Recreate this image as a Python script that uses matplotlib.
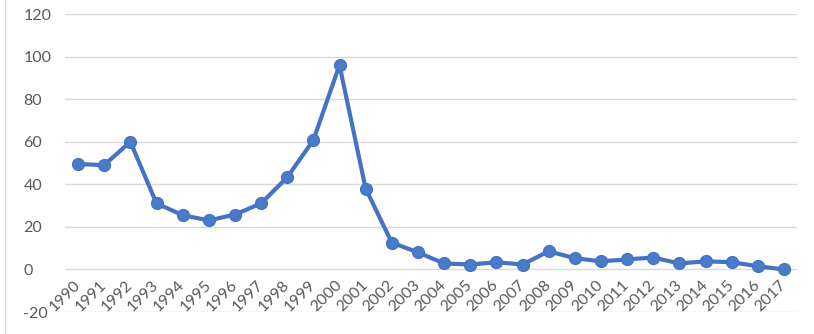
import matplotlib
matplotlib.use("Agg")
import matplotlib.pyplot as plt
from matplotlib.lines import Line2D

years = [str(y) for y in range(1990, 2018)]
values = [49.5, 49, 60, 31, 25.5, 23, 25.8, 31, 43.3, 60.7, 96, 38, 12.6, 8,
          2.8, 2.3, 3.4, 2.3, 8.5, 5.3, 3.8, 4.7, 5.6, 2.8, 3.8, 3.4, 1.5, 0]
yticks = [-20, 0, 20, 40, 60, 80, 100, 120]

W, H = 814, 334
fig = plt.figure(figsize=(W / 100, H / 100), dpi=100)
ax = fig.add_axes([65 / W, 1 - 312 / H, (797 - 65) / W, (312 - 14) / H])

x = list(range(len(years)))
ax.plot(x, values, color="#4472C4", lw=3.0, marker="o", markersize=8.5,
        markerfacecolor="#4A7BC8", markeredgecolor="#4472C4", zorder=3,
        solid_joinstyle="round")

ax.set_xlim(-0.5, len(years) - 0.5)
ax.set_ylim(-20, 120)
ax.set_yticks(yticks)
ax.set_yticklabels([str(v) for v in yticks])
ax.set_xticks(x)
ax.set_xticklabels(years)

ax.grid(axis="y", color="#D9D9D9", lw=1)
ax.set_axisbelow(True)
for s in ax.spines.values():
    s.set_visible(False)

ax.tick_params(axis="y", length=0, pad=30, labelsize=11.5, labelcolor="#595959")
for t in ax.get_yticklabels():
    t.set_horizontalalignment("left")
    t.set_fontfamily("Lato")

ax.tick_params(axis="x", length=0, pad=-21, labelsize=11.5, labelcolor="#595959")
for t in ax.get_xticklabels():
    t.set_rotation(45)
    t.set_rotation_mode("anchor")
    t.set_horizontalalignment("right")
    t.set_verticalalignment("center")
    t.set_fontfamily("Lato")

fig.add_artist(Line2D([4.5 / W, 4.5 / W], [0, 1], color="#D9D9D9", lw=1,
                      transform=fig.transFigure))

fig.savefig("out.png", dpi=100, facecolor="white")
